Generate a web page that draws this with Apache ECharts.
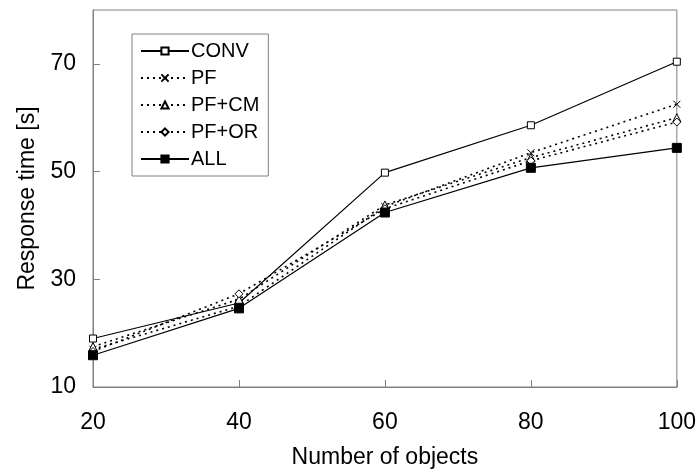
<!DOCTYPE html>
<html><head><meta charset="utf-8">
<script src="https://cdn.jsdelivr.net/npm/echarts@6/dist/echarts.min.js"></script>
<style>html,body{margin:0;padding:0;background:#fff}#c{width:699px;height:474px}</style>
</head><body><div id="c"></div>
<script>
const xValues = [20, 40, 60, 80, 100];
const conv  = [19.0, 25.6, 49.8, 58.6, 70.4];
const pf    = [17.0, 25.0, 43.5, 53.5, 62.5];
const pfcm  = [17.5, 26.3, 43.8, 52.6, 60.0];
const pfor  = [16.6, 27.3, 43.1, 52.0, 59.2];
const all   = [15.9, 24.6, 42.4, 50.7, 54.4];
const yTicks = [10, 30, 50, 70];

const crossPath = 'path://M0,0L10,10M10,0L0,10';
const FONT = 'Liberation Sans, Arial, sans-serif';
function pts(arr){ return xValues.map((x,i)=>[x,arr[i]]); }
function ser(name, data, symbol, dashed, filled, size){
  return {
    name, type:'line', data: pts(data), symbol, symbolSize: size,
    showSymbol:true,
    lineStyle:{color:'#000', width: dashed?1.6:1.2, type: dashed?[2,4]:'solid'},
    itemStyle:{color: filled?'#000':'#fff', borderColor:'#000', borderWidth:1},
    emphasis:{disabled:true}, animation:false
  };
}
const chart = echarts.init(document.getElementById('c'), null, {renderer:'canvas'});
chart.setOption({
  animation:false,
  backgroundColor:'#fff',
  grid:{left:93, right:22, top:10, bottom:84, show:true, borderColor:'#808080', borderWidth:1},
  legend:{
    left:132, top:34, orient:'vertical', itemGap:7, itemWidth:48, itemHeight:9,
    borderColor:'#808080', borderWidth:1, padding:[7,9,7,8],
    textStyle:{fontFamily:FONT, fontSize:20, color:'#000', padding:[0,0,0,-3]},
    data:['CONV','PF','PF+CM','PF+OR','ALL']
  },
  xAxis:{
    type:'value', min:20, max:100, interval:20,
    name:'Number of objects', nameLocation:'middle', nameGap:59,
    nameTextStyle:{fontFamily:FONT, fontSize:23, color:'#000'},
    axisLine:{lineStyle:{color:'#808080'}},
    axisTick:{inside:true, length:7, lineStyle:{color:'#808080'}},
    axisLabel:{fontFamily:FONT, fontSize:23, color:'#000', margin:24},
    splitLine:{show:false}
  },
  yAxis:{
    type:'value', min:10, max:80, interval:10,
    name:'Response time [s]', nameLocation:'middle', nameGap:52,
    nameTextStyle:{fontFamily:FONT, fontSize:23, color:'#000'},
    axisLine:{show:true, lineStyle:{color:'#808080'}},
    axisTick:{show:true, inside:true, length:7, lineStyle:{color:'#808080'}, customValues:yTicks},
    axisLabel:{fontFamily:FONT, fontSize:23, color:'#000', margin:17, customValues:yTicks},
    splitLine:{show:false}
  },
  series:[
    ser('CONV', conv, 'rect', false, false, 7),
    ser('PF', pf, crossPath, true, false, 7),
    ser('PF+CM', pfcm, 'triangle', true, false, 8),
    ser('PF+OR', pfor, 'diamond', true, false, 8),
    ser('ALL', all, 'rect', false, true, 9)
  ]
});
</script></body></html>
